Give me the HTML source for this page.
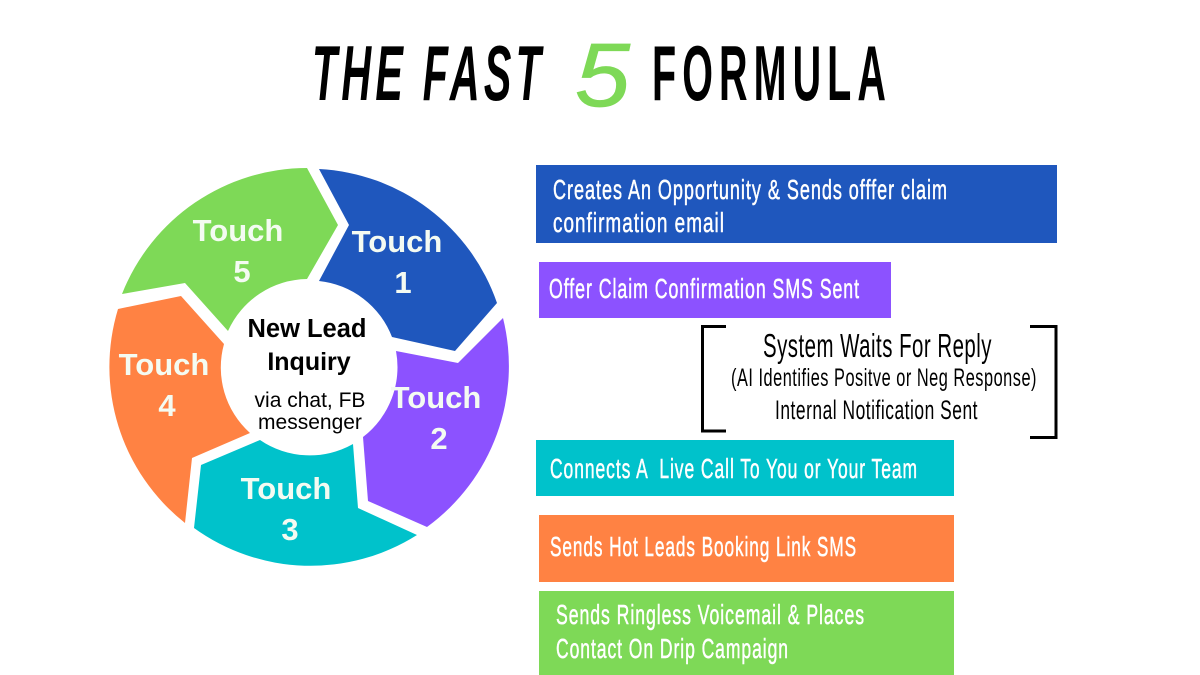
<!DOCTYPE html>
<html><head><meta charset="utf-8"><style>
html,body{margin:0;padding:0;background:#fff;width:1200px;height:675px;overflow:hidden}
svg{display:block}
text{font-family:"Liberation Sans",sans-serif}
</style></head><body>
<svg width="1200" height="675" viewBox="0 0 1200 675" xmlns="http://www.w3.org/2000/svg">
<rect width="1200" height="675" fill="#fff"/>
<!-- title -->
<g font-size="78" fill="#000" font-weight="bold">
<text x="312" y="100" font-style="italic" letter-spacing="8" textLength="233" lengthAdjust="spacingAndGlyphs">THE FAST</text>
<text x="575" y="106" font-size="90" font-weight="normal" font-style="italic" fill="#7ed957" stroke="#7ed957" stroke-width=".8" textLength="55" lengthAdjust="spacingAndGlyphs">5</text>
<text x="652" y="100" letter-spacing="12" textLength="240" lengthAdjust="spacingAndGlyphs">FORMULA</text>
</g>
<!-- wheel -->
<path fill="#1f57bd" d="M319 169A199 199 0 0 1 497 303L455 351L392 337A88 88 0 0 0 319 281L349 225Z"/>
<path fill="#8c52ff" d="M503 318A199 199 0 0 1 427 527L368 501L363 437A88 88 0 0 0 396 351L458 363Z"/>
<path fill="#00c2cb" d="M417 535A199 199 0 0 1 194 528L201 465L260 440A88 88 0 0 0 353 444L358 508Z"/>
<path fill="#ff8243" d="M185 523A199 199 0 0 1 118 309L181 296L224 344A88 88 0 0 0 250 433L192 458Z"/>
<path fill="#7ed957" d="M122 294A199 199 0 0 1 307 168L338 225L307 279A88 88 0 0 0 228 331L185 283Z"/>
<g font-size="31" font-weight="bold" fill="#f4fbf2" text-anchor="middle">
<text x="397" y="252">Touch</text><text x="403" y="293">1</text>
<text x="436" y="408">Touch</text><text x="439" y="449">2</text>
<text x="286" y="499">Touch</text><text x="290" y="540">3</text>
<text x="164" y="375">Touch</text><text x="167" y="416">4</text>
<text x="238" y="241">Touch</text><text x="242" y="282">5</text>
</g>
<g text-anchor="middle" fill="#000">
<text x="307" y="337" font-size="25.500" font-weight="bold">New Lead</text>
<text x="309" y="370" font-size="25" font-weight="bold">Inquiry</text>
<text x="310" y="407" font-size="21">via chat, FB</text>
<text x="310" y="429" font-size="21">messenger</text>
</g>
<!-- bars -->
<rect x="536" y="165" width="521" height="78" fill="#1f57bd"/>
<rect x="539" y="262" width="352" height="56" fill="#8c52ff"/>
<rect x="536" y="440" width="418" height="56" fill="#00c2cb"/>
<rect x="539" y="515" width="415" height="67" fill="#ff8243"/>
<rect x="539" y="591" width="415" height="84" fill="#7ed957"/>
<g fill="#fff" font-size="28" letter-spacing="1.500" stroke="#fff" stroke-width=".5">
<text x="553" y="199" textLength="395" lengthAdjust="spacingAndGlyphs">Creates An Opportunity &amp; Sends offfer claim</text>
<text x="553" y="232" textLength="172" lengthAdjust="spacingAndGlyphs">confirmation email</text>
<text x="549" y="298" textLength="311" lengthAdjust="spacingAndGlyphs">Offer Claim Confirmation SMS Sent</text>
<text x="550" y="478" textLength="368" lengthAdjust="spacingAndGlyphs" xml:space="preserve">Connects A  Live Call To You or Your Team</text>
<text x="550" y="556" textLength="307" lengthAdjust="spacingAndGlyphs">Sends Hot Leads Booking Link SMS</text>
<text x="556" y="624" textLength="309" lengthAdjust="spacingAndGlyphs">Sends Ringless Voicemail &amp; Places</text>
<text x="556" y="658" textLength="233" lengthAdjust="spacingAndGlyphs">Contact On Drip Campaign</text>
</g>
<!-- bracket block -->
<path fill="none" stroke="#000" stroke-width="3" d="M726 326.500H702.500V431H726"/>
<path fill="none" stroke="#000" stroke-width="3" d="M1030 326.500H1056V437.500H1030"/>
<g fill="#000">
<text x="763" y="357" font-size="33" letter-spacing=".8" textLength="229" lengthAdjust="spacingAndGlyphs">System Waits For Reply</text>
<text x="731" y="386" font-size="25" letter-spacing=".8" textLength="306" lengthAdjust="spacingAndGlyphs">(AI Identifies Positve or Neg Response)</text>
<text x="775" y="419" font-size="27" letter-spacing=".8" textLength="203" lengthAdjust="spacingAndGlyphs">Internal Notification Sent</text>
</g>
</svg>
</body></html>
